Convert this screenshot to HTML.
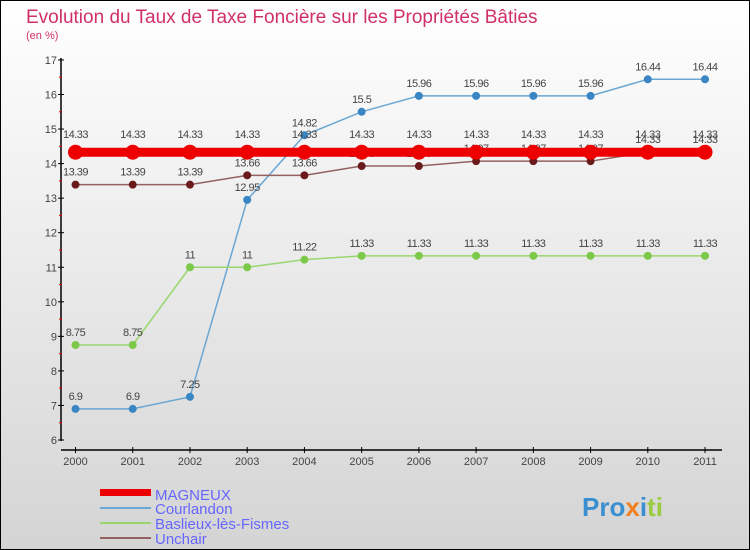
<!DOCTYPE html>
<html><head><meta charset="utf-8"><style>
body{margin:0;width:750px;height:550px;overflow:hidden}
svg{display:block;font-family:"Liberation Sans",sans-serif}
</style></head><body>
<svg id="c" width="750" height="550">
<defs><linearGradient id="bg" x1="0" y1="0" x2="0" y2="1"><stop offset="0" stop-color="#ffffff"/><stop offset="1" stop-color="#d4d4d4"/></linearGradient></defs>
<rect x="0.5" y="0.5" width="749" height="549" fill="url(#bg)" stroke="#000"/>
<text x="26" y="23" font-size="19" fill="#d0306a">Evolution du Taux de Taxe Foncière sur les Propriétés Bâties</text>
<text x="26" y="39" font-size="11" fill="#d0306a">(en %)</text>
<g id="axes"></g><g id="plot"></g>
<g>
<rect x="100" y="489" width="51" height="7" fill="#e00"/>
<text x="155" y="500" font-size="15" fill="#6666ff">MAGNEUX</text>
<rect x="100" y="507" width="51" height="2" fill="#6aa7d4"/>
<text x="155" y="514" font-size="15" fill="#6666ff">Courlandon</text>
<rect x="100" y="522" width="51" height="2" fill="#99d66e"/>
<text x="155" y="529" font-size="15" fill="#6666ff">Baslieux-lès-Fismes</text>
<rect x="100" y="537" width="51" height="2" fill="#946060"/>
<text x="155" y="544" font-size="15" fill="#6666ff">Unchair</text>
</g>
<g font-size="26" font-weight="bold">
<text x="582" y="516"><tspan fill="#3a8fd0">Pro</tspan><tspan fill="#f08020">x</tspan><tspan fill="#3a8fd0">i</tspan><tspan fill="#9bcc40">ti</tspan></text>
</g>
</svg>
<script>
const years=[2000,2001,2002,2003,2004,2005,2006,2007,2008,2009,2010,2011];
const yTicks=[6,7,8,9,10,11,12,13,14,15,16,17];
const magneux=[14.33,14.33,14.33,14.33,14.33,14.33,14.33,14.33,14.33,14.33,14.33,14.33];
const courlandon=[6.9,6.9,7.25,12.95,14.82,15.5,15.96,15.96,15.96,15.96,16.44,16.44];
const baslieux=[8.75,8.75,11,11,11.22,11.33,11.33,11.33,11.33,11.33,11.33,11.33];
const unchair=[13.39,13.39,13.39,13.66,13.66,13.93,13.93,14.07,14.07,14.07,14.33,14.33];
const NS="http://www.w3.org/2000/svg";
const X=i=>75.5+i*57.23, Y=v=>440-(v-6)*34.55;
function mk(p,t,a){const e=document.createElementNS(NS,t);for(const k in a)e.setAttribute(k,a[k]);p.appendChild(e);return e;}
const ax=document.getElementById('axes'),pl=document.getElementById('plot');
let e=mk(ax,'line',{x1:61,y1:58,x2:61,y2:441,stroke:'#000','stroke-width':1.5});


e=mk(ax,'line',{x1:61,y1:450,x2:722,y2:450,stroke:'#000','stroke-width':1.5});


yTicks.forEach((v,i)=>{
 mk(ax,'line',{x1:58,y1:Y(v),x2:64,y2:Y(v),stroke:'#000'});
 if(i<yTicks.length-1)mk(ax,'line',{x1:59,y1:Y(v+0.5),x2:62,y2:Y(v+0.5),stroke:'#e00'});
 const t=mk(ax,'text',{x:57,y:Y(v)+4,'font-size':11,fill:'#444','text-anchor':'end'});t.textContent=v;
 
 
});
years.forEach((y,i)=>{
 mk(ax,'line',{x1:X(i),y1:447,x2:X(i),y2:453,stroke:'#000'});
 const t=mk(ax,'text',{x:X(i),y:465,'font-size':11,fill:'#444','text-anchor':'middle'});t.textContent=y;
 
 
});
function series(d,name,col,dot,w,r,lab){
 const g=mk(pl,'g',{});
 
 
 mk(g,'polyline',{points:d.map((v,i)=>X(i)+','+Y(v)).join(' '),fill:'none',stroke:col,'stroke-width':w});
 d.forEach((v,i)=>{
  const c=mk(g,'circle',{cx:X(i),cy:Y(v),r:r,fill:dot,stroke:dot});
  
  
  const t=mk(g,'text',{x:X(i),y:Y(v)-lab,'font-size':11,fill:'#444','text-anchor':'middle','letter-spacing':'-0.5'});t.textContent=v;
  
  
 });
}
series(courlandon,'courlandon','#6aa7d4','#3a86c4',1.5,3.5,9);
series(baslieux,'baslieux','#99d66e','#7cc94a',1.5,3.5,9);
series(unchair,'unchair','#946060','#6a1a1a',1.5,3.5,9);
series(magneux,'magneux','#e00','#e00',9,7,14);
</script>
</body></html>
